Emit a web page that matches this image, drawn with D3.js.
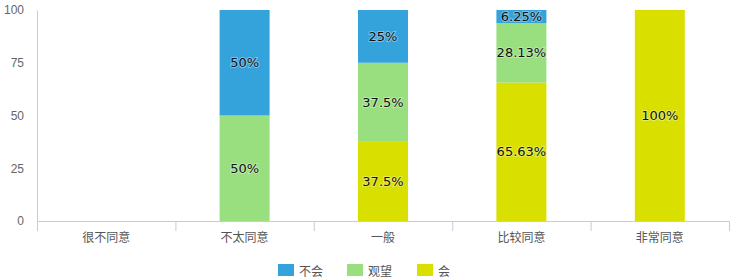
<!DOCTYPE html>
<html>
<head>
<meta charset="utf-8">
<script src="https://cdn.jsdelivr.net/npm/d3@7"></script>
<style>
  body { margin: 0; background: #fff; }
  .seglabel { font-family: "DejaVu Sans", sans-serif; font-size: 13px; fill: #111;
              paint-order: stroke; stroke: rgba(255,255,255,0.35); stroke-width: 2px; }
</style>
</head>
<body>
<div id="vis"></div>
<script>
const FRAME_WIDTH = 750;
const FRAME_HEIGHT = 278;
const MARGINS = {left: 37, right: 21, top: 10, bottom: 57};

const categories = ["很不同意", "不太同意", "一般", "比较同意", "非常同意"];
const seriesNames = ["会", "观望", "不会"];
const hui = [0, 0, 37.5, 65.63, 100];
const guanwang = [0, 50, 37.5, 28.13, 0];
const buhui = [0, 50, 25, 6.25, 0];
const yTicks = [0, 25, 50, 75, 100];
const legendOrder = ["不会", "观望", "会"];

const COLORS = {"不会": "#34a3db", "观望": "#99de7f", "会": "#d9e000"};

const VIS_WIDTH = FRAME_WIDTH - MARGINS.left - MARGINS.right;
const VIS_HEIGHT = FRAME_HEIGHT - MARGINS.top - MARGINS.bottom;

const rows = categories.map((c, i) => ({cat: c, "会": hui[i], "观望": guanwang[i], "不会": buhui[i]}));
const stacked = d3.stack().keys(seriesNames)(rows);

const svg = d3.select("#vis").append("svg")
  .attr("width", FRAME_WIDTH)
  .attr("height", FRAME_HEIGHT);

const X_SCALE = d3.scaleBand().domain(categories).range([MARGINS.left, MARGINS.left + VIS_WIDTH]);
const Y_SCALE = d3.scaleLinear().domain([0, 100]).range([MARGINS.top + VIS_HEIGHT, MARGINS.top]);
const BAR_W = 50;

// y axis
const yAxis = svg.append("g")
  .attr("transform", "translate(" + MARGINS.left + ",0)")
  .call(d3.axisLeft(Y_SCALE).tickValues(yTicks).tickSize(0).tickPadding(13));
yAxis.select(".domain").attr("stroke", "#c3cddd");
yAxis.selectAll("text").attr("fill", "#666").attr("font-size", "12px")
  .attr("font-family", "'Liberation Sans', Arial, sans-serif");

// x axis
const xAxis = svg.append("g")
  .attr("transform", "translate(0," + (MARGINS.top + VIS_HEIGHT) + ")")
  .call(d3.axisBottom(X_SCALE).tickSize(0).tickPadding(12).tickSizeOuter(0));
xAxis.select(".domain").attr("stroke", "#c3cddd");
xAxis.selectAll("text").attr("fill", "#555").attr("font-size", "12px")
  .attr("font-family", "'Noto Sans CJK SC', sans-serif");
const bounds = categories.map(c => X_SCALE(c)).concat([MARGINS.left + VIS_WIDTH]);
xAxis.selectAll("line.sep").data(bounds).enter().append("line")
  .attr("class", "sep")
  .attr("x1", d => d + 0.5).attr("x2", d => d + 0.5)
  .attr("y1", 0).attr("y2", 10)
  .attr("stroke", "#c3cddd");

// bars
const layers = svg.selectAll("g.layer").data(stacked).enter().append("g")
  .attr("class", "layer")
  .attr("fill", d => COLORS[d.key]);

layers.selectAll("rect").data(d => d).enter().append("rect")
  .attr("x", d => X_SCALE(d.data.cat) + X_SCALE.bandwidth() / 2 - BAR_W / 2)
  .attr("y", d => Y_SCALE(d[1]))
  .attr("width", BAR_W)
  .attr("height", d => Y_SCALE(d[0]) - Y_SCALE(d[1]));

// labels
stacked.forEach(layer => {
  svg.selectAll(null).data(layer.filter(d => d.data[layer.key] > 0)).enter().append("text")
    .attr("class", "seglabel")
    .attr("x", d => X_SCALE(d.data.cat) + X_SCALE.bandwidth() / 2)
    .attr("y", d => (Y_SCALE(d[0]) + Y_SCALE(d[1])) / 2)
    .attr("text-anchor", "middle")
    .attr("dominant-baseline", "central")
    .text(d => d.data[layer.key] + "%");
});

// legend
const legendX = [278, 347, 417];
const legend = svg.selectAll("g.leg").data(legendOrder).enter().append("g")
  .attr("class", "leg")
  .attr("transform", (d, i) => "translate(" + legendX[i] + ",264)");
legend.append("rect").attr("width", 16).attr("height", 12).attr("fill", d => COLORS[d]);
legend.append("text")
  .attr("x", 21).attr("y", 6)
  .attr("dominant-baseline", "central")
  .attr("font-size", "12px")
  .attr("fill", "#555")
  .attr("font-family", "'Noto Sans CJK SC', sans-serif")
  .text(d => d);
</script>
</body>
</html>
